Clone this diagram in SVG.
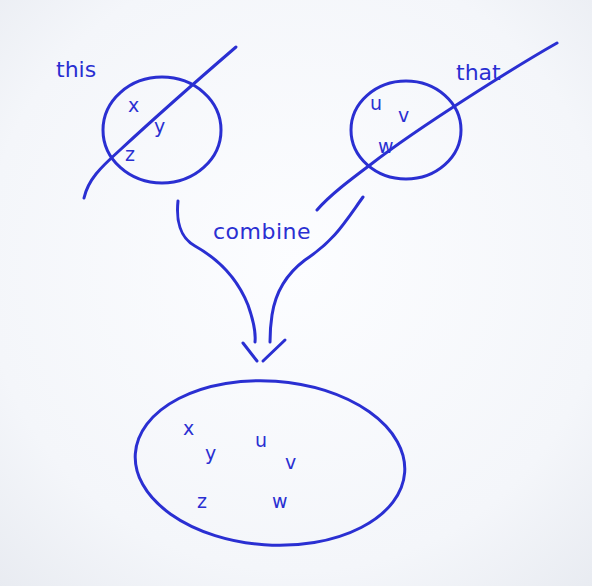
<svg xmlns="http://www.w3.org/2000/svg" width="592" height="586" viewBox="0 0 592 586">
<defs>
<radialGradient id="bg" cx="0.5" cy="0.45" r="0.75">
<stop offset="0" stop-color="#fcfdff"/>
<stop offset="0.7" stop-color="#f4f6fa"/>
<stop offset="1" stop-color="#e8ebf1"/>
</radialGradient>
<style>
.ink{fill:none;stroke:#2a2fd2;stroke-width:3;stroke-linecap:round;stroke-linejoin:round}
.t{fill:#2a2fd2;font-family:"DejaVu Sans","Liberation Sans",sans-serif;font-size:19px}
.lbl{fill:#2a2fd2;font-family:"DejaVu Sans","Liberation Sans",sans-serif;font-size:22px}
</style>
</defs>
<rect width="592" height="586" fill="url(#bg)"/>

<g id="this">
<text class="lbl" x="56" y="77">this</text>
<ellipse class="ink" cx="162" cy="130" rx="59" ry="53"/>
<path class="ink" d="M236,47 C200,78 160,113 120,150 C100,168 88,180 84,198"/>
<text class="t" x="128" y="112">x</text>
<text class="t" x="154" y="133">y</text>
<text class="t" x="125" y="161">z</text>
</g>

<g id="that">
<text class="lbl" x="456" y="80">that</text>
<ellipse class="ink" cx="406" cy="130" rx="55" ry="49"/>
<path class="ink" d="M557,43 C520,64 420,126 370,165 C350,180 330,195 317,210"/>
<text class="t" x="370" y="110" font-size="16">u</text>
<text class="t" x="398" y="122" font-size="16">v</text>
<text class="t" x="378" y="153" font-size="16">w</text>
</g>

<g id="connectors">
<path class="ink" d="M178,201 C176,220 180,238 195,246 C220,260 238,280 248,305 C254,322 256,332 255,342"/>
<path class="ink" d="M363,197 C345,222 335,240 305,260 C285,275 275,295 272,315 C270,328 270,334 270,342"/>
<path class="ink" d="M243,343 L257,361"/>
<path class="ink" d="M285,340 L263,361"/>
<text class="lbl" x="213" y="239" font-size="18" letter-spacing="0.5">combine</text>
</g>

<g id="result">
<ellipse class="ink" cx="270" cy="463" rx="135" ry="82" transform="rotate(4 270 463)"/>
<text class="t" x="183" y="435">x</text>
<text class="t" x="205" y="460">y</text>
<text class="t" x="255" y="447">u</text>
<text class="t" x="285" y="469">v</text>
<text class="t" x="197" y="508">z</text>
<text class="t" x="272" y="508">w</text>
</g>
</svg>
